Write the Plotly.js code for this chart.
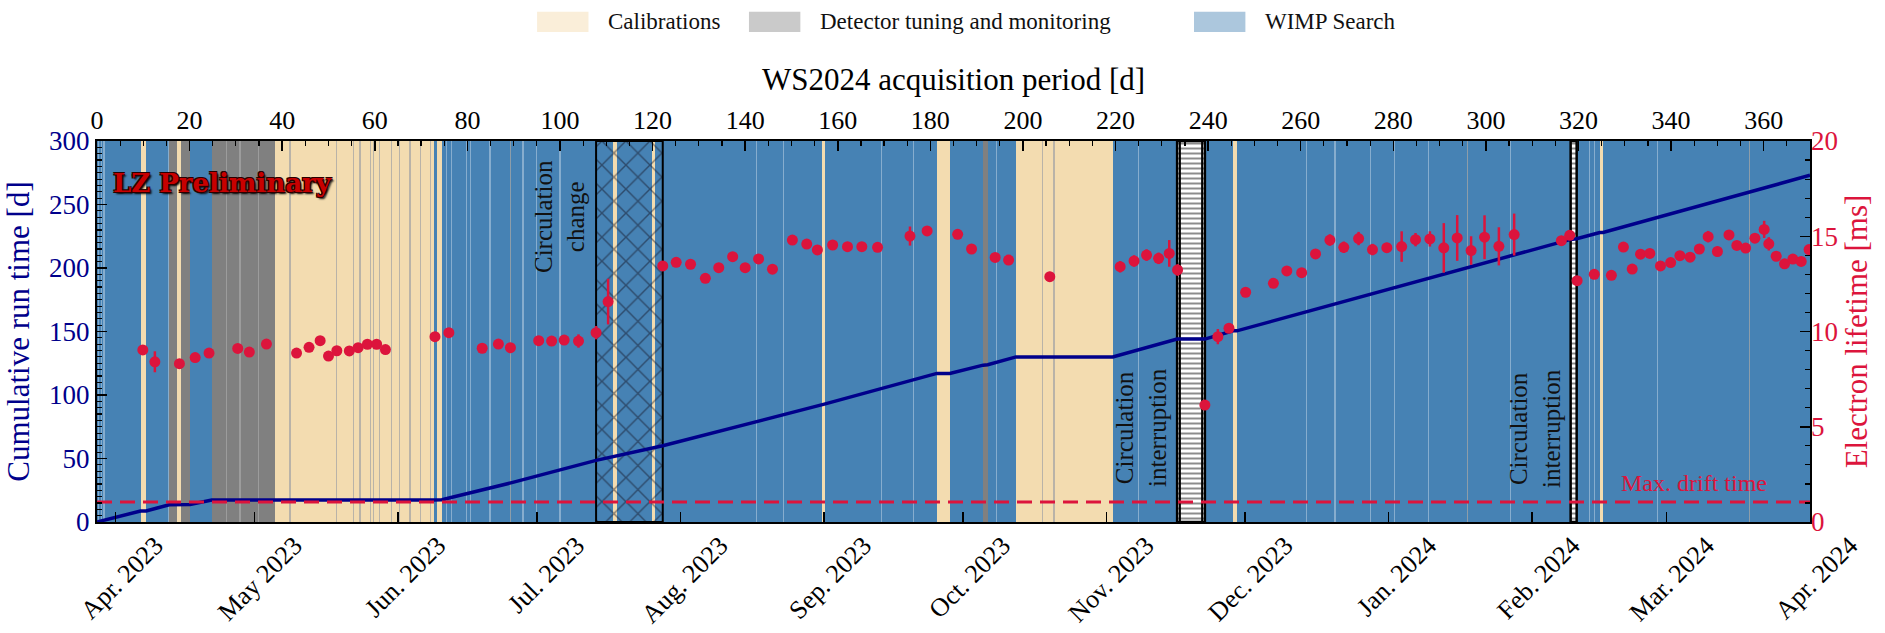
<!DOCTYPE html>
<html>
<head>
<meta charset="utf-8">
<script src="https://cdn.plot.ly/plotly-3.0.1.min.js"></script>
<style>
html,body{margin:0;padding:0;background:#ffffff;}
#chart{width:1885px;height:633px;}
</style>
</head>
<body>
<div id="chart"></div>
<script>
// ---------------- DATA ----------------
// Run periods (days since start of WS2024 acquisition)
const wimpStart = [0, 10.6, 20.1, 72.7, 74.5, 112.4, 120.5, 157.3, 184.2, 192.4, 219.4, 239.3, 246.2, 325.3];
const wimpEnd   = [9.4, 15.6, 24.8, 73.4, 111.5, 119.9, 156.6, 181.4, 191.4, 198.5, 233.3, 245.4, 324.6, 370];
const calStart  = [9.4, 17.3, 38.4, 73.4, 111.5, 119.9, 156.6, 181.4, 198.5, 245.4, 324.6];
const calEnd    = [10.6, 18.1, 72.7, 74.5, 112.4, 120.5, 157.3, 184.2, 219.4, 246.2, 325.3];
const tuneStart = [15.6, 18.1, 24.8, 191.4];
const tuneEnd   = [17.3, 20.1, 38.4, 192.4];
const circChangeStart = [107.8];
const circChangeEnd   = [122.2];
const interruptStart  = [233.3, 318.3];
const interruptEnd    = [239.3, 319.6];
const interruptInnerStart = [233.9];
const interruptInnerEnd   = [238.7];
const lightLineDays = [0.3, 0.9, 1.5, 15.4, 75.5, 76.6, 79.9, 80.6, 84.9, 92, 95, 100, 142.5, 148.2, 169.5,
                       176.3, 194.3, 224.9, 261.3, 267.4, 275, 280.2, 287.6, 305.3, 322.3, 323.4, 337];
const grayLineDays  = [28, 30.9, 34.8, 41.7, 51.8, 55.4, 56.8, 59, 59.7, 61.1, 63.6, 65.4, 67.6, 69.8, 72,
                       89.3, 204.3, 206.7, 296, 357];

// Cumulative run time [d]
const runDays = [0, 9.4, 10.6, 15.6, 20.1, 24.8, 72.7, 74.5, 89.6, 107.8, 122.2, 156.6, 157.3, 181.4, 184.2,
                 191.4, 192.4, 198.5, 219.4, 233.3, 239.3, 245.4, 246.2, 318.3, 319.6, 324.6, 325.3, 370];
const runTime = [0, 8.7, 8.7, 13.5, 13.8, 17.3, 17.3, 17.5, 31, 48.5, 60, 93, 93, 117, 117,
                 123.5, 123.8, 130, 130, 144, 144, 150.5, 150.5, 222.5, 223, 228, 228, 273];

// Electron lifetime [ms]
const elDays = [9.9, 12.5, 17.8, 21.2, 24.2, 30.4, 32.9, 36.6, 43.1, 45.8, 48.2, 50.0, 51.8, 54.5, 56.4, 58.4, 60.4, 62.3,
  73.0, 76.0, 83.2, 86.7, 89.3, 95.4, 98.2, 100.9, 104.0, 107.8, 110.4, 122.2, 125.1, 128.2, 131.4, 134.3, 137.3, 140.0,
  142.9, 145.9, 150.2, 153.3, 155.6, 158.9, 162.1, 165.2, 168.6, 175.6, 179.3, 185.9, 188.9, 194.0, 196.9, 205.8,
  221.0, 224.0, 226.7, 229.3, 231.6, 233.4, 239.3, 242.1, 244.5, 248.1, 254.1, 257.0, 260.2, 263.2, 266.3, 269.3,
  272.5, 275.5, 278.6, 281.8, 284.8, 287.9, 290.9, 293.8, 296.8, 299.7, 302.8, 306.1, 316.3, 318.1, 319.7, 323.4,
  327.1, 329.7, 331.6, 333.4, 335.4, 337.7, 339.9, 341.9, 344.1, 346.1, 348.0, 350.0, 352.5, 354.2, 356.1, 358.1,
  360.1, 361.1, 362.7, 364.5, 366.3, 368.1, 369.8];
const elLifetime = [9.03, 8.41, 8.31, 8.63, 8.87, 9.11, 8.92, 9.34, 8.87, 9.17, 9.52, 8.71, 8.99, 8.98, 9.15, 9.33, 9.33, 9.05,
  9.73, 9.94, 9.12, 9.34, 9.15, 9.52, 9.50, 9.55, 9.50, 9.94, 11.57, 13.44, 13.63, 13.53, 12.79, 13.35, 13.93, 13.35,
  13.81, 13.27, 14.80, 14.59, 14.28, 14.54, 14.45, 14.45, 14.42, 15.01, 15.28, 15.10, 14.33, 13.89, 13.75, 12.88,
  13.40, 13.70, 14.01, 13.84, 14.10, 13.23, 6.14, 9.73, 10.17, 12.06, 12.53, 13.18, 13.09, 14.07, 14.80, 14.42,
  14.88, 14.30, 14.40, 14.46, 14.82, 14.86, 14.39, 14.91, 14.25, 14.95, 14.47, 15.09, 14.77, 15.05, 12.67, 13.00,
  12.95, 14.43, 13.28, 14.06, 14.10, 13.44, 13.62, 13.98, 13.90, 14.33, 14.98, 14.20, 15.07, 14.52, 14.38, 14.90,
  15.36, 14.60, 13.95, 13.55, 13.80, 13.68, 14.30];
const elError = [0.1, 0.55, 0.1, 0.1, 0.1, 0.1, 0.1, 0.1, 0.1, 0.1, 0.1, 0.1, 0.1, 0.1, 0.1, 0.1, 0.1, 0.1,
  0.1, 0.1, 0.1, 0.1, 0.1, 0.1, 0.1, 0.1, 0.35, 0.35, 1.2, 0.1, 0.1, 0.1, 0.1, 0.1, 0.1, 0.1,
  0.2, 0.1, 0.2, 0.1, 0.15, 0.1, 0.1, 0.1, 0.1, 0.5, 0.25, 0.25, 0.15, 0.2, 0.15, 0.25,
  0.3, 0.3, 0.3, 0.3, 0.7, 0.3, 0.1, 0.4, 0.2, 0.1, 0.1, 0.15, 0.15, 0.2, 0.3, 0.3,
  0.35, 0.3, 0.25, 0.8, 0.35, 0.4, 1.3, 1.2, 0.75, 1.15, 1.0, 1.1, 0.2, 0.15, 0.1, 0.1,
  0.1, 0.1, 0.1, 0.15, 0.15, 0.15, 0.15, 0.15, 0.15, 0.15, 0.3, 0.25, 0.15, 0.15, 0.15, 0.15,
  0.45, 0.35, 0.15, 0.15, 0.15, 0.15, 0.15];

// Maximum drift time [ms]
const driftDays = [0, 370];
const maxDriftTime = 1.05;

// Axis ranges / labels
const dayRange = [0, 370];
const runRange = [0, 300];
const lifetimeRange = [0, 20];
const dateRange = ['2023-03-28', '2024-04-01'];
const monthTicks = ['2023-04-01','2023-05-01','2023-06-01','2023-07-01','2023-08-01','2023-09-01','2023-10-01',
                    '2023-11-01','2023-12-01','2024-01-01','2024-02-01','2024-03-01','2024-04-01'];
const monthLabels = ['Apr. 2023','May 2023','Jun. 2023','Jul. 2023','Aug. 2023','Sep. 2023','Oct. 2023',
                     'Nov. 2023','Dec. 2023','Jan. 2024','Feb. 2024','Mar. 2024','Apr. 2024'];
const legendLabels = ['Calibrations', 'Detector tuning and monitoring', 'WIMP Search'];

// ---------------- STYLE ----------------
const SERIF = 'Liberation Serif, DejaVu Serif, Times New Roman, serif';
const C_WIMP = '#4682B4', C_CAL = '#F3DCB0', C_TUNE = '#808080';
const C_RUN = '#00008B', C_EL = '#DC143C';
const legendColors = ['rgba(245,222,179,0.5)', 'rgba(128,128,128,0.42)', 'rgba(70,130,180,0.45)'];

function bandTrace(starts, ends, marker) {
  return {
    type: 'bar', xaxis: 'x', yaxis: 'y',
    x: starts.map((s, i) => (s + ends[i]) / 2),
    width: starts.map((s, i) => ends[i] - s),
    y: starts.map(() => runRange[1]),
    base: starts.map(() => runRange[0]),
    marker: marker,
    hoverinfo: 'skip', showlegend: false
  };
}
function lineTrace(days, w, color) {
  return bandTrace(days.map(d => d - w / 2), days.map(d => d + w / 2), {color: color, line: {width: 0}});
}

const traces = [
  bandTrace(wimpStart, wimpEnd, {color: C_WIMP, line: {width: 0}}),
  bandTrace(calStart, calEnd, {color: C_CAL, line: {width: 0}}),
  bandTrace(tuneStart, tuneEnd, {color: C_TUNE, line: {width: 0}}),
  lineTrace(lightLineDays, 0.25, 'rgba(255,255,255,0.35)'),
  lineTrace(grayLineDays, 0.25, 'rgba(165,165,165,0.75)'),
  bandTrace(circChangeStart, circChangeEnd, {
    color: 'rgba(0,0,0,0)',
    line: {color: 'black', width: 2},
    pattern: {shape: 'x', fgcolor: '#151525', bgcolor: 'rgba(0,0,0,0)', size: 17, solidity: 0.16, fillmode: 'overlay'}
  }),
  bandTrace(interruptStart, interruptEnd, {
    color: 'white',
    line: {color: 'black', width: 2.5},
    pattern: {shape: '-', fgcolor: '#1a1a1a', bgcolor: 'white', size: 5, solidity: 0.4, fillmode: 'overlay'}
  }),
  bandTrace(interruptInnerStart, interruptInnerEnd, {
    color: 'rgba(0,0,0,0)',
    line: {color: 'black', width: 2}
  }),
  {
    type: 'scatter', mode: 'lines', xaxis: 'x', yaxis: 'y',
    x: runDays, y: runTime,
    line: {color: C_RUN, width: 3.5},
    hoverinfo: 'skip', showlegend: false
  },
  {
    type: 'scatter', mode: 'markers', xaxis: 'x2', yaxis: 'y',
    x: [monthTicks[0]], y: [null], hoverinfo: 'skip', showlegend: false
  },
  {
    type: 'scatter', mode: 'lines', xaxis: 'x', yaxis: 'y2',
    x: driftDays, y: driftDays.map(() => maxDriftTime),
    line: {color: C_EL, width: 3, dash: '15px,8px'},
    hoverinfo: 'skip', showlegend: false
  },
  {
    type: 'scatter', mode: 'markers', xaxis: 'x', yaxis: 'y2',
    x: elDays, y: elLifetime,
    error_y: {type: 'data', array: elError, color: C_EL, thickness: 2.5, width: 0},
    marker: {color: C_EL, size: 11},
    hoverinfo: 'skip', showlegend: false
  }
];

// Legend (patches + labels)
const legX0 = [0.2569, 0.3806, 0.6404];
const legW = 0.0300;
const legGap = 0.0105;
const shapes = legendLabels.map((_, i) => ({
  type: 'rect', xref: 'paper', yref: 'paper',
  x0: legX0[i], x1: legX0[i] + legW, y0: 1.286, y1: 1.339,
  fillcolor: legendColors[i], line: {width: 0}
}));
const annotations = legendLabels.map((t, i) => ({
  text: t, xref: 'paper', yref: 'paper', x: legX0[i] + legW + legGap, y: 1.313,
  xanchor: 'left', yanchor: 'middle', showarrow: false,
  font: {family: SERIF, size: 23, color: '#111111'}
}));
annotations.push(
  {text: 'LZ Preliminary', xref: 'paper', yref: 'paper', x: 0.008, y: 0.935, xanchor: 'left', yanchor: 'top',
   showarrow: false,
   font: {family: 'DejaVu Serif, serif', size: 26, weight: 'bold', color: '#c80000',
          shadow: '1px 1px 0 #2a0000, -1px -1px 0 #2a0000, 1px -1px 0 #2a0000, -1px 1px 0 #2a0000, 2px 2px 2px #000'}},
  {text: 'Circulation<br>change', xref: 'x', yref: 'paper', x: 100, y: 0.803, textangle: -90,
   xanchor: 'center', yanchor: 'middle', align: 'center', showarrow: false,
   font: {family: SERIF, size: 25, color: '#111111'}},
  {text: 'Circulation<br>interruption', xref: 'x', yref: 'paper', x: 225.5, y: 0.247, textangle: -90,
   xanchor: 'center', yanchor: 'middle', align: 'center', showarrow: false,
   font: {family: SERIF, size: 25, color: '#111111'}},
  {text: 'Circulation<br>interruption', xref: 'x', yref: 'paper', x: 310.6, y: 0.247, textangle: -90,
   xanchor: 'center', yanchor: 'middle', align: 'center', showarrow: false,
   font: {family: SERIF, size: 25, color: '#111111'}},
  {text: 'Max. drift time', xref: 'x', yref: 'paper', x: 345, y: 0.102,
   xanchor: 'center', yanchor: 'middle', showarrow: false,
   font: {family: SERIF, size: 24, color: C_EL}}
);

const layout = {
  width: 1885, height: 633,
  margin: {l: 97, r: 75, t: 141, b: 111, pad: 0},
  paper_bgcolor: 'white', plot_bgcolor: 'white',
  barmode: 'overlay', bargap: 0,
  showlegend: false,
  font: {family: SERIF, color: 'black'},
  xaxis: {
    range: dayRange, side: 'top', anchor: 'y',
    tick0: 0, dtick: 20, ticks: 'inside', ticklen: 10, tickwidth: 1.5, tickcolor: 'black',
    minor: {dtick: 5, ticks: 'inside', ticklen: 5, tickwidth: 1.2, tickcolor: 'black'},
    showline: true, linecolor: 'black', linewidth: 2, mirror: true,
    showgrid: false, zeroline: false,
    tickfont: {family: SERIF, size: 26, color: 'black'},
    title: {text: 'WS2024 acquisition period [d]', font: {family: SERIF, size: 31, color: 'black'}, standoff: 6}
  },
  xaxis2: {
    type: 'date', overlaying: 'x', side: 'bottom', anchor: 'y',
    range: dateRange, tickmode: 'array', tickvals: monthTicks, ticktext: monthLabels,
    tickangle: -45, ticks: 'inside', ticklen: 10, tickwidth: 1.5, tickcolor: 'black',
    showline: false, showgrid: false, zeroline: false,
    tickfont: {family: SERIF, size: 26, color: 'black'},
    ticklabelshift: 40, ticklabelstandoff: 2
  },
  yaxis: {
    range: runRange, anchor: 'x', tick0: 0, dtick: 50,
    ticks: 'inside', ticklen: 10, tickwidth: 1.5, tickcolor: 'black',
    minor: {dtick: 5, ticks: 'inside', ticklen: 5, tickwidth: 1.2, tickcolor: 'black'},
    showline: true, linecolor: 'black', linewidth: 2, mirror: true,
    showgrid: false, zeroline: false,
    tickfont: {family: SERIF, size: 27, color: C_RUN},
    title: {text: 'Cumulative run time [d]', font: {family: SERIF, size: 31, color: C_RUN}, standoff: 10}
  },
  yaxis2: {
    range: lifetimeRange, overlaying: 'y', side: 'right', anchor: 'x', tick0: 0, dtick: 5,
    ticks: 'inside', ticklen: 10, tickwidth: 1.5, tickcolor: 'black',
    minor: {dtick: 1, ticks: 'inside', ticklen: 5, tickwidth: 1.2, tickcolor: 'black'},
    showline: false, showgrid: false, zeroline: false,
    tickfont: {family: SERIF, size: 27, color: C_EL},
    title: {text: 'Electron lifetime [ms]', font: {family: SERIF, size: 31, color: C_EL}, standoff: 8}
  },
  shapes: shapes,
  annotations: annotations
};

Plotly.newPlot('chart', traces, layout, {displayModeBar: false, staticPlot: true});
</script>
</body>
</html>
